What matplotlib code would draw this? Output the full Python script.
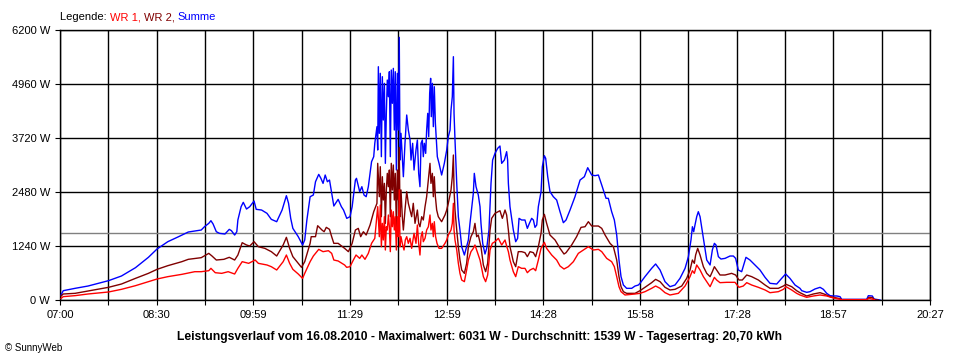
"""SunnyWeb Leistungsverlauf 16.08.2010 - WR 1, WR 2 und Summe."""
import matplotlib

matplotlib.use("Agg")
import matplotlib.pyplot as plt
import numpy as np

plt.rcParams["font.family"] = ["Liberation Sans", "DejaVu Sans"]

# x axis: minutes after 07:00, grid every 807/18 min, labelled every second line
DAY_SPAN_MIN = 807
TIME_LABELS = ["07:00", "08:30", "09:59", "11:29", "12:59", "14:28", "15:58", "17:28", "18:57", "20:27"]
Y_TICKS = [0, 1240, 2480, 3720, 4960, 6200]
AVERAGE_W = 1539

TITLE = ("Leistungsverlauf vom 16.08.2010 - Maximalwert: 6031 W - "
         "Durchschnitt: 1539 W - Tagesertrag: 20,70 kWh")

# (minutes after 07:00, W)
SUMME = [
    (1, 115), (3, 214), (14, 268), (26, 321), (45, 444), (57, 551), (70, 742), (82, 980), (90, 1171),
    (100, 1339), (110, 1454), (119, 1561), (131, 1607), (134, 1683), (138, 1760), (140, 1821), (142, 1745),
    (145, 1568), (148, 1530), (153, 1515), (157, 1622), (159, 1592), (162, 1492), (164, 1568), (165, 1837),
    (168, 2143), (170, 2243), (173, 2089), (176, 2143), (180, 2273), (182, 2082), (187, 2066), (192, 1990),
    (196, 1852), (201, 1798), (206, 2066), (210, 2395), (212, 2220), (214, 1875), (216, 1645), (221, 1454),
    (225, 1263), (227, 1378), (229, 1837), (232, 2372), (235, 2411), (237, 2716), (240, 2885), (242, 2794),
    (244, 2678), (246, 2870), (248, 2716), (250, 2755), (252, 2464), (254, 2158), (258, 2311), (261, 2143),
    (263, 2066), (266, 1875), (269, 1913), (271, 2143), (274, 2755), (275, 2794), (278, 2487), (280, 2602),
    (282, 2411), (284, 2372), (286, 2602), (289, 3176), (291, 3291), (292, 3598), (294, 3980),
    (294.7, 3444), (295.3, 5357), (296.2, 3827), (297.1, 5205), (298.1, 3291), (299.0, 5128), (299.9, 4133),
    (300.9, 4975), (301.8, 3138), (302.7, 4286), (303.6, 5051), (304.6, 4668), (305.5, 5242), (306.4, 3291),
    (307.3, 5281), (308.3, 4516), (309.2, 5319), (310.1, 3903), (311.0, 5242), (312.0, 2985), (312.9, 5205),
    (313.8, 3903), (314.7, 6031), (315.4, 3214), (316.3, 3827), (317.5, 3291), (318.5, 2831), (320.0, 3598),
    (321.6, 4248), (323.1, 3903), (324.7, 3674), (325.6, 3214), (327.1, 3598), (328.4, 2985), (330.2, 3444),
    (331.5, 3674), (332.7, 2908), (333.9, 2602), (334.9, 3598), (336.1, 3674), (337.0, 3291), (338.0, 3598),
    (339.2, 3367), (340.1, 3903), (341.1, 4286), (342.0, 3750), (342.9, 4745), (343.8, 5090), (344.4, 4210),
    (345.4, 4975), (346.3, 3980), (347.2, 4898), (348.2, 4057), (349.1, 3674), (350.0, 3291), (351.6, 3138),
    (354.0, 2870), (356.5, 3138), (358.7, 3444), (360.2, 3750), (361.8, 3903), (362.7, 4363), (363.9, 4668),
    (364.9, 5587), (365.5, 4286), (366.4, 3674), (368.0, 2678), (369.5, 1913), (371.0, 1607), (372.6, 1224),
    (375.1, 1033), (377.2, 1224), (378.8, 1378), (380.3, 1760), (381.9, 2105), (383.4, 2449), (384.3, 2908),
    (385.9, 2602), (388.0, 2411), (389.6, 2143), (390.5, 1760), (392.1, 1301), (394.2, 1056), (395.8, 1186),
    (397.9, 1607), (399.8, 2678), (401.3, 3214), (403.5, 3367), (406.0, 3483), (408.1, 3536), (409.7, 3138),
    (412.2, 3214), (414.3, 3406), (415.2, 3214), (415.9, 2678), (417.4, 2143), (420.5, 1607), (422.7, 1339),
    (424.5, 1416), (425.8, 1875), (428.2, 1837), (431.3, 1837), (433.5, 1645), (435.4, 1760), (437.5, 1875),
    (439.1, 1837), (440.6, 1668), (442.2, 1722), (443.7, 2143), (446.2, 2487), (447.4, 3061), (449.3, 3313),
    (450.5, 3253), (452.4, 2831), (454.5, 2487), (457.6, 2372), (460.7, 2296), (463.8, 2028), (466.9, 1775),
    (469.4, 1837), (473.1, 2066), (477.7, 2372), (482.4, 2755), (486.4, 2831), (489.5, 3038), (493.2, 2870),
    (496.3, 2855), (499.4, 2870), (502.5, 2640), (506.5, 2335), (508.6, 2335), (511.7, 2028), (514.2, 1837),
    (516.4, 1492), (518.5, 918), (520.4, 536), (522.6, 344), (525.6, 268), (530.3, 268), (533.4, 321),
    (536.5, 344), (538.0, 383), (542.6, 536), (548.8, 727), (552.5, 827), (556.6, 689), (561.2, 421),
    (565.8, 306), (570.5, 344), (575.1, 497), (579.8, 727), (582.9, 995), (585.3, 1378), (586.6, 1683),
    (587.8, 1568), (589.0, 1722), (590.6, 1913), (592.1, 2028), (593.7, 1913), (596.8, 1416), (599.9, 918),
    (603.0, 804), (605.1, 1148), (607.0, 1301), (608.5, 1263), (610.7, 995), (613.1, 941), (616.9, 956),
    (621.5, 1010), (624.6, 1010), (626.7, 956), (629.2, 689), (632.3, 650), (636.3, 980), (640.0, 918),
    (644.7, 804), (649.3, 689), (654.0, 520), (658.6, 383), (664.8, 367), (669.4, 497), (673.1, 597),
    (677.1, 497), (681.8, 344), (686.4, 268), (688.0, 214), (692.6, 176), (695.7, 191), (700.3, 253),
    (705.0, 291), (708.1, 245), (711.2, 153), (714.3, 99), (717.4, 92), (720.5, 92), (723.5, 77),
    (725.1, 15), (748.3, 15), (749.8, 99), (753.5, 92), (755.1, 23), (760.6, 0),
]

WR2 = [
    (1, 92), (3, 138), (14, 153), (26, 207), (45, 291), (57, 367), (70, 497), (82, 612), (90, 704),
    (100, 788), (113, 880), (119, 934), (131, 972), (138, 1071), (141, 1010), (145, 918), (152, 934),
    (157, 980), (162, 918), (165, 1033), (169, 1316), (173, 1263), (176, 1240), (180, 1339), (184, 1224),
    (190, 1186), (196, 1110), (201, 1010), (207, 1263), (210, 1439), (213, 1186), (216, 995), (221, 842),
    (224, 750), (227, 880), (232, 1301), (233, 1454), (237, 1454), (239, 1706), (243, 1607), (245, 1568),
    (247, 1668), (250, 1622), (252, 1454), (254, 1301), (258, 1301), (264, 1186), (267.5, 1110), (271, 1301),
    (274, 1607), (276.7, 1645), (278.9, 1454), (281.4, 1568), (284, 1492), (287.6, 1722), (291, 2028),
    (294, 2220), (294.7, 3138), (296.2, 2372), (297.1, 3061), (298.1, 1913), (299.0, 2831), (299.9, 2296),
    (300.9, 2678), (301.8, 1760), (302.7, 2526), (303.6, 2908), (304.6, 2602), (305.5, 2985), (306.4, 1913),
    (307.3, 3138), (308.3, 2526), (309.2, 3100), (310.1, 2296), (311.0, 2908), (312.0, 1683), (312.9, 2985),
    (313.8, 2296), (314.7, 3500), (315.4, 1913), (316.3, 2526), (317.5, 1913), (318.5, 1607), (320.0, 2066),
    (321.6, 2487), (323.1, 2220), (324.7, 2066), (326.2, 1913), (327.7, 2220), (329.3, 1760), (331.5, 2066),
    (332.7, 1760), (333.9, 1683), (335.5, 1913), (337.0, 1837), (338.6, 2143), (340.1, 2372), (341.7, 2755),
    (343.2, 3138), (344.1, 2678), (345.4, 2908), (346.3, 2372), (347.2, 2831), (348.2, 2372), (349.4, 2066),
    (350.9, 1913), (354.0, 1798), (357.1, 1952), (358.7, 2066), (360.2, 2220), (362.7, 2526), (363.9, 2831),
    (364.9, 3329), (365.5, 2526), (366.4, 2066), (368.0, 1607), (369.5, 1224), (371.0, 918), (372.6, 689),
    (375.1, 612), (377.2, 842), (378.8, 1224), (381.2, 1454), (383.4, 1568), (384.9, 1760), (386.5, 1454),
    (388.0, 1492), (390.5, 1224), (392.7, 804), (394.8, 650), (396.7, 842), (398.9, 1607), (400.4, 1875),
    (403.5, 1990), (408.1, 2050), (410.3, 1875), (412.8, 2066), (414.3, 1952), (415.9, 1607), (417.4, 1224),
    (420.5, 880), (422.7, 765), (425.1, 1110), (428.2, 1110), (431.3, 1087), (433.5, 995), (436.0, 1110),
    (439.1, 1087), (441.2, 995), (443.7, 1224), (446.2, 1531), (447.4, 1837), (449.3, 1967), (451.4, 1760),
    (454.5, 1492), (459.2, 1378), (463.8, 1186), (467.5, 1056), (469.4, 1087), (474.6, 1263), (479.2, 1454),
    (483.3, 1668), (487.0, 1683), (490.1, 1798), (493.2, 1699), (499.4, 1699), (502.5, 1645), (505.6, 1492),
    (510.2, 1301), (513.3, 1224), (516.4, 918), (518.5, 536), (520.4, 306), (522.6, 191), (525.6, 153),
    (533.4, 153), (538.0, 214), (542.6, 291), (548.8, 398), (552.5, 474), (556.6, 421), (561.2, 291),
    (565.8, 230), (570.5, 245), (576.7, 321), (581.3, 497), (584.4, 689), (586.6, 918), (588.4, 842),
    (589.6, 1033), (591.5, 1186), (593.7, 1033), (596.8, 765), (599.9, 612), (603.0, 536), (605.1, 650),
    (607.0, 765), (609.1, 689), (612.2, 574), (616.9, 574), (623.0, 612), (626.7, 574), (629.8, 459),
    (632.9, 459), (637.0, 574), (641.6, 536), (647.8, 459), (654.0, 344), (658.6, 268), (666.3, 268),
    (671.0, 321), (673.4, 360), (678.7, 306), (683.3, 214), (686.4, 168), (692.6, 92), (698.8, 138),
    (705.0, 168), (709.6, 130), (714.3, 77), (717.4, 61), (723.5, 31), (725.1, 8), (748.3, 8), (750.4, 61),
    (753.5, 54), (755.4, 8), (759.0, 0),
]

WR1 = [
    (1, 38), (3, 77), (14, 100), (26, 138), (45, 184), (57, 245), (70, 329), (82, 421), (90, 482),
    (100, 536), (113, 589), (125, 650), (131, 650), (138, 673), (140, 727), (144, 627), (150, 612),
    (156, 650), (162, 597), (165, 727), (169, 880), (175, 842), (181, 918), (184, 842), (192, 804),
    (196, 765), (201, 689), (207, 880), (210, 1033), (213, 842), (216, 704), (221, 597), (225, 497),
    (227, 612), (232, 880), (235, 1010), (240, 1163), (244, 1110), (249, 1132), (252, 1071), (254, 918),
    (258, 896), (264, 804), (265.9, 750), (269, 765), (272.1, 918), (274.6, 1033), (278, 956), (280, 1033),
    (282.9, 934), (286, 1071), (289, 1301), (292, 1416), (294.7, 2143), (296.2, 1454), (297.1, 2181),
    (298.1, 1224), (299.0, 1760), (299.9, 1378), (300.9, 1913), (301.8, 1148), (302.7, 1683), (303.6, 1607),
    (304.6, 1952), (305.5, 1683), (306.4, 1110), (307.3, 2066), (308.3, 1683), (309.2, 2028), (310.1, 1607),
    (311.0, 1913), (312.0, 1148), (312.9, 1913), (313.8, 1454), (314.7, 2531), (315.4, 1224), (316.3, 1454),
    (317.5, 1301), (319.1, 1148), (320.3, 1378), (321.6, 1454), (323.1, 1301), (324.7, 1416), (326.2, 1186),
    (328.4, 1531), (330.2, 1301), (331.5, 1722), (332.7, 1301), (333.9, 1033), (334.9, 1454), (336.1, 1568),
    (337.0, 1339), (338.6, 1416), (340.1, 1607), (341.7, 1683), (343.2, 1952), (344.1, 1607), (345.4, 1760),
    (346.3, 1454), (347.2, 1798), (348.4, 1454), (349.7, 1301), (351.6, 1186), (354.0, 1186), (357.1, 1301),
    (358.7, 1378), (360.2, 1492), (362.7, 1607), (363.9, 1760), (364.9, 2220), (365.5, 1607), (366.4, 1378),
    (368.0, 1148), (369.5, 842), (371.0, 612), (372.6, 459), (375.1, 421), (377.2, 689), (378.8, 918),
    (381.2, 1110), (383.4, 1186), (384.9, 1263), (386.5, 1148), (389.6, 918), (392.7, 536), (394.8, 421),
    (396.7, 574), (398.9, 1148), (401.0, 1301), (403.5, 1339), (406.6, 1416), (409.7, 1263), (412.8, 1378),
    (414.3, 1240), (415.9, 1110), (417.4, 918), (420.5, 650), (422.7, 536), (425.1, 765), (428.2, 727),
    (431.3, 727), (433.5, 627), (436.0, 689), (439.1, 727), (441.2, 673), (443.7, 918), (446.2, 1186),
    (449.3, 1324), (451.4, 1186), (456.1, 1033), (460.7, 918), (463.8, 781), (467.5, 712), (471.5, 765),
    (476.2, 880), (480.8, 1071), (485.5, 1148), (490.1, 1224), (494.7, 1148), (499.4, 1163), (502.5, 1110),
    (507.1, 956), (511.7, 880), (514.2, 765), (516.4, 536), (518.5, 306), (520.4, 191), (524.1, 115),
    (533.4, 138), (538.0, 153), (542.6, 191), (548.8, 268), (552.5, 321), (556.6, 268), (561.2, 168),
    (565.8, 115), (573.6, 153), (579.8, 321), (584.4, 536), (586.6, 673), (588.4, 612), (590.6, 804),
    (593.7, 689), (596.8, 536), (599.9, 421), (603.0, 306), (605.1, 421), (607.0, 520), (609.1, 459),
    (612.2, 398), (618.4, 406), (626.1, 406), (629.8, 291), (633.8, 321), (637.0, 398), (641.6, 344),
    (647.8, 291), (654.0, 230), (658.6, 168), (666.3, 191), (671.0, 245), (673.4, 306), (678.7, 230),
    (683.3, 153), (686.4, 115), (692.6, 61), (698.8, 92), (705.0, 115), (711.2, 92), (717.4, 46),
    (725.1, 8), (748.3, 8), (750.4, 38), (755.4, 8),
]

COLORS = {"WR 1": "#ff0000", "WR 2": "#800000", "Summe": "#0000ff"}


def main():
    fig = plt.figure(figsize=(9.6, 3.6), dpi=100)
    ax = fig.add_axes([60 / 960, 60 / 360, 870 / 960, 270 / 360])

    for name, series in (("Summe", SUMME), ("WR 2", WR2), ("WR 1", WR1)):
        t, w = zip(*series)
        ax.plot(t, w, color=COLORS[name], lw=1.0, zorder=3)

    ax.axhline(AVERAGE_W, color="#808080", lw=1.0, zorder=2)

    xt = np.linspace(0, DAY_SPAN_MIN, 2 * len(TIME_LABELS) - 1)
    xl = []
    for lab in TIME_LABELS:
        xl += [lab, ""]
    ax.set_xticks(xt, xl[:-1])
    ax.set_yticks(Y_TICKS, [f"{v} W" for v in Y_TICKS])
    ax.set_xlim(0, DAY_SPAN_MIN)
    ax.set_ylim(0, Y_TICKS[-1])

    ax.grid(True, color="black", lw=1.0)
    ax.set_axisbelow(True)
    for sp in ax.spines.values():
        sp.set_color("black")
        sp.set_linewidth(1.0)
    ax.tick_params(direction="out", length=3.6, width=0.8, labelsize=8, pad=3.5, colors="black")

    # legend line above the plot, coloured word by word
    fs = 8
    prev = fig.text(60 / 960, 1 - 17 / 360, "Legende: ", fontsize=fs, va="center")
    for txt, col in (("WR 1, ", COLORS["WR 1"]), ("WR 2, ", COLORS["WR 2"]), ("Summe", COLORS["Summe"])):
        prev = ax.annotate(txt, xy=(1, 0), xycoords=prev, va="bottom", ha="left",
                           fontsize=fs, color=col, annotation_clip=False)

    fig.text(479.5 / 960, 1 - 337 / 360, TITLE, fontsize=8.7, fontweight="bold", ha="center", va="center")
    fig.text(5 / 960, 1 - 348 / 360, "\u00a9 SunnyWeb", fontsize=7, ha="left", va="center")

    fig.savefig("out.png", dpi=100, facecolor="white")


if __name__ == "__main__":
    main()
